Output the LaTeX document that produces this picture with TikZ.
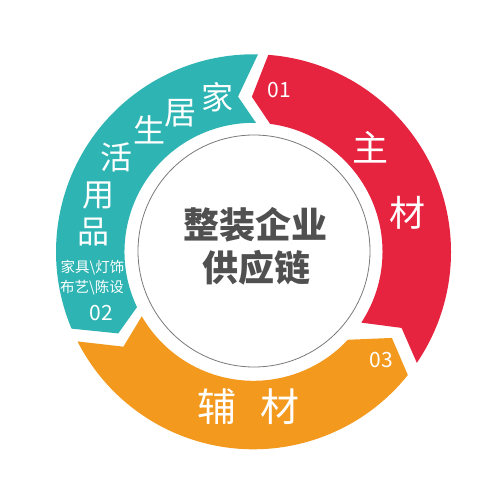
\documentclass[tikz,border=0pt]{standalone}
\usepackage{fontspec}
\newfontfamily\cjk{Noto Sans CJK SC}
\definecolor{segred}{HTML}{E62440}
\definecolor{segteal}{HTML}{2DB4B3}
\definecolor{segorange}{HTML}{F39A1E}
\definecolor{hubtext}{HTML}{505050}
\definecolor{hubline}{HTML}{7A7A7A}
\begin{document}
\begin{tikzpicture}[x=1pt,y=1pt,
  lbl/.style={text=white, inner sep=0pt, font=\cjk\fontsize{#1}{#1}\selectfont},
  hubtxt/.style={text=hubtext, inner sep=0pt, font=\cjk\bfseries\fontsize{36}{36}\selectfont}]
\useasboundingbox (0,0) rectangle (500,504);
\fill[white] (0,0) rectangle (500,504);
\begin{scope}[shift={(253.5,252.2)}]
  % red segment (main materials)
  \fill[segred] (-33.3:129) -- (-27.2:166.5) -- (-34.2:197.5)
    arc[start angle=-34.2, end angle=85.7, radius=197.5pt]
    -- (90.6:155) -- (82.6:129)
    arc[start angle=82.6, end angle=-33.3, radius=129pt] -- cycle;
  % teal segment (home living goods)
  \fill[segteal] (88.9:129) -- (95.7:156) -- (88.7:197.5)
    arc[start angle=88.7, end angle=202.9, radius=197.5pt]
    -- (211.1:158) -- (205.4:129)
    arc[start angle=205.4, end angle=88.9, radius=129pt] -- cycle;
  % orange segment (auxiliary materials)
  \fill[segorange] (210:129) -- (216.1:161) -- (207:197.5)
    arc[start angle=207, end angle=321.4, radius=197.5pt]
    -- (328.1:163) -- (317:129)
    arc[start angle=317, end angle=210, radius=129pt] -- cycle;
  % hub circle
  \node[circle, draw=hubline, line width=0.8pt, fill=white, minimum size=232pt, inner sep=0pt] (hub) at (0.5,0.8) {};
\end{scope}
% hub text
\node[hubtxt] (h1) at (255,279) {整装企业};
\node[hubtxt] (h2) at (256,236) {供应链};
% red labels
\node[lbl=21] (n1) at (279,414) {01};
\node[lbl=36] (r1) at (370,357) {主};
\node[lbl=36] (r2) at (407,291) {材};
% orange labels
\node[lbl=21] (n3) at (381,144) {03};
\node[lbl=39] (o1) at (217,97) {辅};
\node[lbl=39] (o2) at (280,97) {材};
% teal labels
\node[lbl=32] (t1) at (217,407) {家};
\node[lbl=32] (t2) at (180,391) {居};
\node[lbl=32] (t3) at (149,374) {生};
\node[lbl=32] (t4) at (116,347) {活};
\node[lbl=32] (t5) at (98,308) {用};
\node[lbl=32] (t6) at (93,272) {品};
\node[lbl=14.5] (s1) at (92.5,236) {家具\textbackslash 灯饰};
\node[lbl=14.5] (s2) at (92,216) {布艺\textbackslash 陈设};
\node[lbl=21] (n2) at (101.5,191) {02};
\end{tikzpicture}
\end{document}
